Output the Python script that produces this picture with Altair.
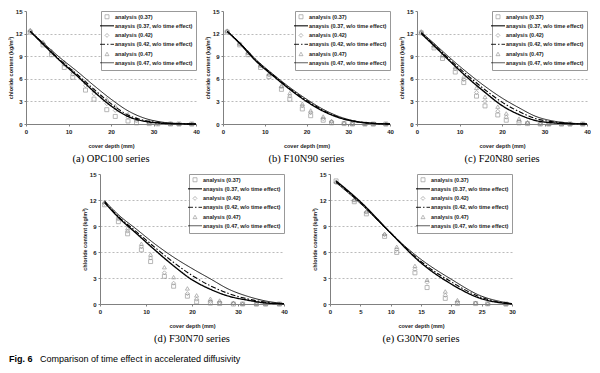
import altair as alt
import pandas as pd

SERIES = [
    "analysis (0.37)",
    "anaysis (0.37, w/o time effect)",
    "analysis (0.42)",
    "anaysis (0.42, w/o time effect)",
    "analysis (0.47)",
    "anaysis (0.47, w/o time effect)",
]
CAPTIONS = ["(a)  OPC100  series", "(b)  F10N90  series", "(c)  F20N80  series",
            "(d)  F30N70  series", "(e)  G30N70  series"]
FIG_LABEL = "Fig. 6"
FIG_TEXT = "Comparison of time effect in accelerated diffusivity"

Y_TICKS = [0, 3, 6, 9, 12, 15]
X_TICKS = [0, 10, 20, 30, 40]
X_TICKS_E = [0, 5, 10, 15, 20, 25, 30]

DEPTHS = [1, 4, 6, 9, 11, 14, 16, 19, 21, 24, 26, 29, 31, 34, 36, 39]
DEPTHS_E = [1, 4, 6, 9, 11, 14, 16, 19, 21, 24, 26, 29]
CURVE_D = [1, 4, 8, 12, 16, 20, 24, 28, 32, 36, 40]
CURVE_D_E = [1, 5, 10, 15, 20, 25, 28, 30]

# (a) OPC100
A_SQ = [12.2, 10.5, 9.2, 7.5, 6.2, 4.5, 3.3, 1.9, 1.0, 0.4, 0.15, 0.05, 0.02, 0, 0, 0]
A_DI = [12.3, 10.7, 9.4, 7.9, 6.6, 5.1, 4.0, 2.7, 1.8, 0.9, 0.4, 0.15, 0.05, 0.02, 0, 0]
A_TR = [12.5, 10.9, 9.7, 8.2, 7.0, 5.6, 4.5, 3.3, 2.4, 1.3, 0.7, 0.3, 0.15, 0.05, 0.02, 0]
A_C37 = [12.3, 10.6, 8.4, 6.4, 4.3, 2.4, 1.0, 0.35, 0.1, 0.02, 0]
A_C42 = [12.3, 10.7, 8.5, 6.6, 4.6, 2.7, 1.2, 0.45, 0.15, 0.04, 0]
A_C47 = [12.3, 10.8, 8.8, 7.0, 5.1, 3.3, 1.75, 0.75, 0.25, 0.07, 0.01]

# (b) F10N90
B_SQ = [12.2, 10.5, 9.2, 7.5, 6.3, 4.6, 3.3, 2.0, 1.1, 0.5, 0.15, 0.05, 0, 0, 0, 0]
B_DI = [12.3, 10.6, 9.4, 7.7, 6.5, 4.9, 3.7, 2.4, 1.5, 0.7, 0.3, 0.1, 0.03, 0, 0, 0]
B_TR = [12.4, 10.7, 9.5, 7.8, 6.7, 5.1, 4.1, 2.7, 1.8, 1.0, 0.4, 0.15, 0.05, 0.02, 0, 0]
B_C37 = [12.3, 10.7, 8.3, 6.4, 4.6, 3.0, 1.7, 0.8, 0.3, 0.08, 0]
B_C42 = [12.3, 10.75, 8.4, 6.5, 4.7, 3.15, 1.8, 0.85, 0.32, 0.09, 0]
B_C47 = [12.3, 10.8, 8.5, 6.6, 4.85, 3.3, 1.95, 0.95, 0.35, 0.1, 0.01]

# (c) F20N80
C_SQ = [12.1, 10.1, 8.7, 6.9, 5.5, 3.7, 2.4, 1.2, 0.5, 0.15, 0.05, 0, 0, 0, 0, 0]
C_DI = [12.1, 10.3, 9.0, 7.3, 5.9, 4.2, 3.0, 1.7, 0.9, 0.35, 0.1, 0.03, 0, 0, 0, 0]
C_TR = [12.3, 10.5, 9.2, 7.6, 6.3, 4.8, 3.6, 2.3, 1.4, 0.7, 0.25, 0.08, 0.02, 0, 0, 0]
C_C37 = [12.0, 10.4, 8.2, 6.1, 4.2, 2.45, 1.25, 0.45, 0.15, 0.04, 0]
C_C42 = [12.1, 10.55, 8.4, 6.4, 4.55, 2.9, 1.65, 0.7, 0.3, 0.08, 0.01]
C_C47 = [12.2, 10.7, 8.65, 6.75, 5.0, 3.45, 2.15, 1.0, 0.4, 0.12, 0.02]

# (d) F30N70
D_SQ = [11.45, 9.5, 8.1, 6.25, 4.9, 3.2, 2.05, 0.9, 0.25, 0.1, 0.05, 0, 0, 0, 0, 0]
D_DI = [11.6, 9.8, 8.4, 6.6, 5.3, 3.6, 2.4, 1.2, 0.55, 0.3, 0.15, 0.05, 0, 0, 0, 0]
D_TR = [11.8, 10.1, 8.75, 6.95, 5.7, 4.25, 3.1, 1.8, 1.0, 0.6, 0.4, 0.15, 0.05, 0, 0, 0]
D_C37 = [11.7, 10.0, 8.1, 6.2, 4.4, 2.8, 1.7, 0.9, 0.45, 0.12, 0.02]
D_C42 = [11.8, 10.1, 8.3, 6.5, 4.8, 3.3, 2.1, 1.2, 0.6, 0.2, 0.03]
D_C47 = [11.9, 10.3, 8.6, 6.9, 5.4, 4.1, 2.9, 1.7, 0.9, 0.35, 0.05]

# (e) G30N70
E_SQ = [14.2, 11.8, 10.4, 7.8, 5.95, 3.6, 1.9, 0.65, 0.05, 0.05, 0.02, 0]
E_DI = [14.0, 12.0, 10.6, 8.0, 6.3, 4.0, 2.5, 1.0, 0.25, 0.1, 0.03, 0]
E_TR = [14.1, 12.0, 10.7, 8.1, 6.6, 4.4, 2.8, 1.45, 0.45, 0.15, 0.05, 0]
E_C37 = [14.2, 11.8, 8.2, 4.75, 2.3, 0.6, 0.15, 0.02]
E_C42 = [14.1, 11.7, 8.2, 4.9, 2.55, 0.75, 0.2, 0.03]
E_C47 = [14.0, 11.6, 8.15, 5.15, 2.85, 0.9, 0.3, 0.05]

GRAY = "#808080"
LINE_PATH = "M-3.5,0H3.5"
SANS = "Liberation Sans"
SERIF = "Liberation Serif"


def panel(depths, sq, di, tr, cdepths, c37, c42, c47, xmax, xticks, w, h, caption):
    n = len(depths)
    m = len(cdepths)
    pts = pd.DataFrame({
        "depth": depths * 3,
        "value": sq + di + tr,
        "series": [SERIES[0]] * n + [SERIES[2]] * n + [SERIES[4]] * n,
    })
    lns = pd.DataFrame({
        "depth": cdepths * 3,
        "value": c37 + c42 + c47,
        "series": [SERIES[1]] * m + [SERIES[3]] * m + [SERIES[5]] * m,
    })
    leg = alt.Legend(title=None, orient="top-right", offset=0)
    x = alt.X("depth:Q", scale=alt.Scale(domain=[0, xmax], nice=False),
              axis=alt.Axis(values=xticks, title="cover depth (mm)", grid=False,
                            labelFlush=False))
    y = alt.Y("value:Q", scale=alt.Scale(domain=[0, 15], nice=False),
              axis=alt.Axis(values=Y_TICKS, title="chloride content (kg/m³)", grid=True,
                            gridOpacity={"condition": {"test": "datum.value == 0 || datum.value == 15",
                                                       "value": 0}, "value": 1}))
    color = alt.Color("series:N", scale=alt.Scale(domain=SERIES,
                      range=[GRAY, "black", GRAY, "black", GRAY, "black"]), legend=leg)
    shape = alt.Shape("series:N", scale=alt.Scale(domain=SERIES,
                      range=["square", LINE_PATH, "diamond", LINE_PATH, "triangle-up", LINE_PATH]),
                      legend=leg)
    dash = alt.StrokeDash("series:N", scale=alt.Scale(domain=SERIES,
                          range=[[1, 0], [1, 0], [1, 0], [5, 2, 1.5, 2], [1, 0], [1, 0]]),
                          legend=leg)
    sw = alt.StrokeWidth("series:N", scale=alt.Scale(type="ordinal", domain=SERIES,
                         range=[0.8, 1.4, 0.8, 1.1, 0.8, 0.9]), legend=leg)
    points = alt.Chart(pts).mark_point(filled=False, size=16, strokeWidth=0.8).encode(
        x=x, y=y, color=color, shape=shape)
    lines = alt.Chart(lns).mark_line(interpolate="monotone").encode(
        x=x, y=y, color=color, strokeDash=dash, strokeWidth=sw)
    return alt.layer(points, lines).properties(
        width=w, height=h,
        title=alt.TitleParams(text=caption, orient="bottom", anchor="middle", font=SERIF,
                              fontSize=10.5, fontWeight="normal", offset=5, color="black"),
    )


pa = panel(DEPTHS, A_SQ, A_DI, A_TR, CURVE_D, A_C37, A_C42, A_C47, 40, X_TICKS, 170, 113, CAPTIONS[0])
pb = panel(DEPTHS, B_SQ, B_DI, B_TR, CURVE_D, B_C37, B_C42, B_C47, 40, X_TICKS, 167, 113, CAPTIONS[1])
pc = panel(DEPTHS, C_SQ, C_DI, C_TR, CURVE_D, C_C37, C_C42, C_C47, 40, X_TICKS, 170, 113, CAPTIONS[2])
pd_ = panel(DEPTHS, D_SQ, D_DI, D_TR, CURVE_D, D_C37, D_C42, D_C47, 40, X_TICKS, 184, 130, CAPTIONS[3])
pe = panel(DEPTHS_E, E_SQ, E_DI, E_TR, CURVE_D_E, E_C37, E_C42, E_C47, 30, X_TICKS_E, 182, 130, CAPTIONS[4])

spacer = alt.Chart(pd.DataFrame({"t": [""]})).mark_text().encode(text="t:N").properties(width=28, height=130)

IND = dict(x="independent", y="independent", color="independent", shape="independent",
           strokeDash="independent", strokeWidth="independent")
LIND = dict(color="independent", shape="independent", strokeDash="independent",
            strokeWidth="independent")

row1 = alt.hconcat(pa, pb, pc, spacing=27, bounds="flush").resolve_scale(**IND).resolve_legend(**LIND)
row2 = alt.hconcat(spacer, pd_, pe, spacing=46, bounds="flush").resolve_scale(**IND).resolve_legend(**LIND)

cap_df = pd.DataFrame({"a": [FIG_LABEL], "b": [FIG_TEXT]})
cap = alt.layer(
    alt.Chart(cap_df).mark_text(align="left", baseline="middle", font=SANS, fontSize=9,
                                fontWeight="bold", color="black").encode(
        text="a:N", x=alt.value(-17), y=alt.value(8)),
    alt.Chart(cap_df).mark_text(align="left", baseline="middle", font=SANS, fontSize=9,
                                color="black").encode(
        text="b:N", x=alt.value(14), y=alt.value(8)),
).properties(width=300, height=14)

chart = alt.vconcat(row1, row2, cap, spacing=7).resolve_scale(**IND).resolve_legend(**LIND
).properties(padding=0).configure_view(stroke=None).configure_axis(
    labelFont=SANS, labelFontSize=6, labelFontWeight="bold", labelColor="#222",
    titleFont=SANS, titleFontSize=5.5, titleFontWeight="bold", titleColor="#222",
    domainColor="#808080", tickColor="#808080", tickSize=2, labelPadding=2,
    gridColor="#aaaaaa", gridDash=[2, 2], gridWidth=0.8,
).configure_axisX(titlePadding=9).configure_axisY(titlePadding=2).configure_legend(
    labelFont=SANS, labelFontSize=5.5, labelFontWeight="bold", labelColor="#222",
    strokeColor="#999999", fillColor="white", padding=3, rowPadding=1.8,
    symbolSize=16, labelOffset=5, labelLimit=0, symbolFillColor="transparent",
)

chart.save("out.html", embed_options={"renderer": "svg", "actions": False})
